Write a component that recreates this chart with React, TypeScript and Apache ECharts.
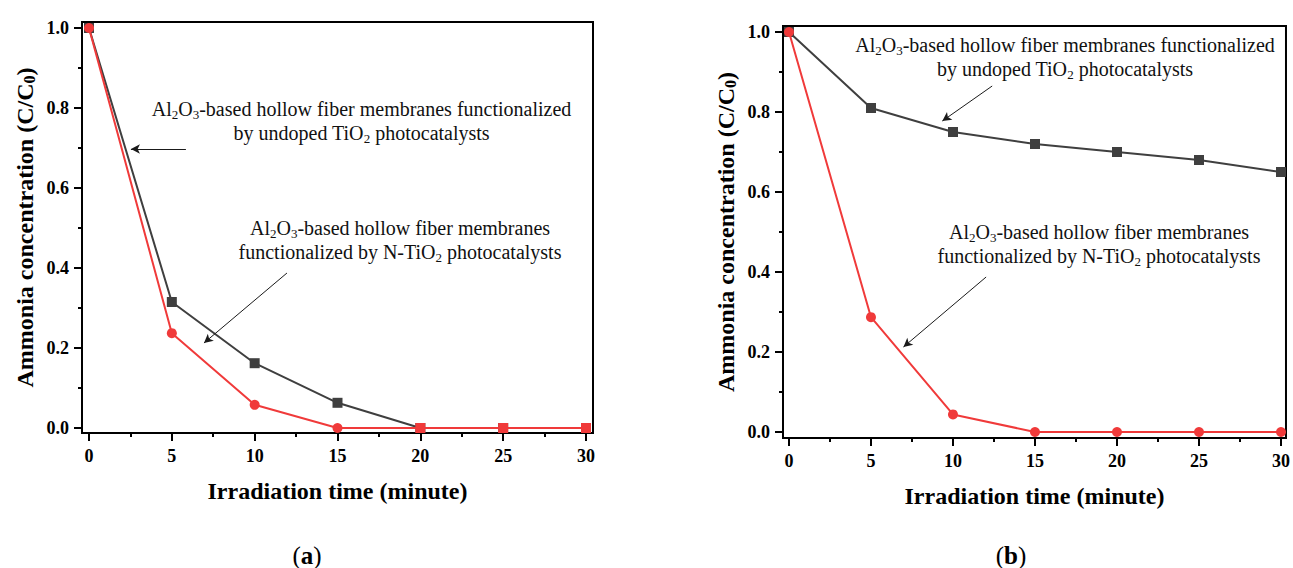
import React, { useEffect, useRef } from 'react';
import * as echarts from 'echarts';

// ---- data ----
const times = [0, 5, 10, 15, 20, 25, 30];
const undopedA = [1.0, 0.315, 0.162, 0.063, 0, 0, 0];
const nDopedA = [1.0, 0.237, 0.058, 0, 0, 0, 0];
const nDopedSymbolsA = ['circle', 'circle', 'circle', 'circle', 'rect', 'rect', 'rect'];
const undopedB = [1.0, 0.81, 0.75, 0.72, 0.70, 0.68, 0.65];
const nDopedB = [1.0, 0.287, 0.044, 0, 0, 0, 0];

const xTicks = [0, 5, 10, 15, 20, 25, 30];
const xMinorTicks = [2.5, 7.5, 12.5, 17.5, 22.5, 27.5];
const yTicks = [0, 0.2, 0.4, 0.6, 0.8, 1.0];
const yMinorTicks = [0.1, 0.3, 0.5, 0.7, 0.9];

// arrows: [x1, y1, x2, y2] in data units (tail -> head)
const arrowsA = [
  [5.85, 0.6975, 2.53, 0.6975],
  [11.95, 0.3875, 6.94, 0.2125],
];
const arrowsB = [
  [12.39, 0.865, 9.35, 0.7775],
  [12.02, 0.3875, 6.98, 0.2125],
];

const textUndoped = 'Al{s|2}O{s|3}-based hollow fiber membranes functionalized\nby undoped TiO{s|2} photocatalysts';
const textNDoped = 'Al{s|2}O{s|3}-based hollow fiber membranes\nfunctionalized by N-TiO{s|2} photocatalysts';

const SERIF = '"Liberation Serif", "Times New Roman", serif';
const GREY = '#3f3f3f';
const RED = '#f03a3a';

function axesFor(g: number, xMin: number, xMax: number, yMin: number, yMax: number) {
  const line = { color: '#000', width: 2 };
  const xs = [
    {
      type: 'value', gridIndex: g, position: 'bottom', min: xMin, max: xMax,
      axisLine: { show: true, onZero: false, lineStyle: line },
      axisTick: { show: true, inside: false, length: 8, customValues: xTicks, lineStyle: line },
      axisLabel: { show: true, customValues: xTicks, margin: 14, fontFamily: SERIF, fontWeight: 'bold', fontSize: 18, color: '#000' },
      splitLine: { show: false },
      name: 'Irradiation time (minute)', nameLocation: 'middle', nameGap: 46,
      nameTextStyle: { fontFamily: SERIF, fontWeight: 'bold', fontSize: 24, color: '#000' },
    },
    {
      type: 'value', gridIndex: g, position: 'bottom', min: xMin, max: xMax,
      axisLine: { show: false, onZero: false },
      axisTick: { show: true, inside: false, length: 4, customValues: xMinorTicks, lineStyle: line },
      axisLabel: { show: false },
      splitLine: { show: false },
    },
  ];
  const ys = [
    {
      type: 'value', gridIndex: g, position: 'left', min: yMin, max: yMax,
      axisLine: { show: true, onZero: false, lineStyle: line },
      axisTick: { show: true, inside: false, length: 8, customValues: yTicks, lineStyle: line },
      axisLabel: {
        show: true, customValues: yTicks, margin: 13, fontFamily: SERIF, fontWeight: 'bold', fontSize: 18, color: '#000',
        formatter: (v: number) => v.toFixed(1),
      },
      splitLine: { show: false },
      name: 'Ammonia concentration (C/C{s|0})', nameLocation: 'middle', nameGap: 45,
      nameTextStyle: {
        fontFamily: SERIF, fontWeight: 'bold', fontSize: 24, color: '#000',
        rich: { s: { fontFamily: SERIF, fontWeight: 'bold', fontSize: 16, color: '#000', verticalAlign: 'bottom', lineHeight: 18 } },
      },
    },
    {
      type: 'value', gridIndex: g, position: 'left', min: yMin, max: yMax,
      axisLine: { show: false, onZero: false },
      axisTick: { show: true, inside: false, length: 4, customValues: yMinorTicks, lineStyle: line },
      axisLabel: { show: false },
      splitLine: { show: false },
    },
  ];
  return { xs, ys };
}

function arrowLines(arrows: number[][]) {
  return {
    silent: true,
    symbol: ['none', 'arrow'],
    symbolSize: [7, 9],
    label: { show: false },
    emphasis: { disabled: true },
    lineStyle: { color: '#1a1a1a', width: 1, type: 'solid' },
    data: arrows.map((a) => [
      { coord: [a[0], a[1]], symbol: 'none' },
      { coord: [a[2], a[3]], symbol: 'arrow' },
    ]),
  };
}

function annot(text: string, x: number, y: number) {
  return {
    type: 'text', x, y, z: 100,
    style: {
      text,
      fill: '#111',
      fontFamily: SERIF,
      fontSize: 20,
      lineHeight: 24,
      align: 'center',
      verticalAlign: 'middle',
      rich: {
        s: { fontFamily: SERIF, fontSize: 13, fill: '#111', verticalAlign: 'bottom', lineHeight: 17 },
      },
    },
  };
}

function caption(letter: string, x: number, y: number) {
  return {
    type: 'text', x, y, z: 100,
    style: {
      text: '(' + '{b|' + letter + '}' + ')',
      fill: '#000', fontFamily: SERIF, fontSize: 25, lineHeight: 28, align: 'center', verticalAlign: 'middle',
      rich: { b: { fontFamily: SERIF, fontSize: 25, lineHeight: 28, fontWeight: 'bold', fill: '#000' } },
    },
  };
}

const a = axesFor(0, -0.4225, 30.4225, -0.0125, 1.015);
const b = axesFor(1, -0.364, 30.304, -0.015, 1.015);

const option: any = {
  animation: false,
  backgroundColor: '#fff',
  grid: [
    { left: 82, top: 22, width: 511, height: 411, show: true, borderColor: '#000', borderWidth: 2, backgroundColor: 'transparent' },
    { left: 783, top: 26, width: 505, height: 412, show: true, borderColor: '#000', borderWidth: 2, backgroundColor: 'transparent' },
  ],
  xAxis: [...a.xs, ...b.xs],
  yAxis: [...a.ys, ...b.ys],
  series: [
    {
      type: 'line', xAxisIndex: 0, yAxisIndex: 0, clip: false, z: 2,
      data: times.map((t, i) => [t, undopedA[i]]),
      symbol: 'rect', symbolSize: 10,
      lineStyle: { color: GREY, width: 2 }, itemStyle: { color: GREY },
      markLine: arrowLines(arrowsA),
    },
    {
      type: 'line', xAxisIndex: 0, yAxisIndex: 0, clip: false, z: 3,
      data: times.map((t, i) => ({ value: [t, nDopedA[i]], symbol: nDopedSymbolsA[i] })),
      symbol: 'circle', symbolSize: 10,
      lineStyle: { color: RED, width: 2 }, itemStyle: { color: RED },
    },
    {
      type: 'line', xAxisIndex: 2, yAxisIndex: 2, clip: false, z: 2,
      data: times.map((t, i) => [t, undopedB[i]]),
      symbol: 'rect', symbolSize: 10,
      lineStyle: { color: GREY, width: 2 }, itemStyle: { color: GREY },
      markLine: arrowLines(arrowsB),
    },
    {
      type: 'line', xAxisIndex: 2, yAxisIndex: 2, clip: false, z: 3,
      data: times.map((t, i) => [t, nDopedB[i]]),
      symbol: 'circle', symbolSize: 10,
      lineStyle: { color: RED, width: 2 }, itemStyle: { color: RED },
    },
  ],
  graphic: [
    annot(textUndoped, 361.5, 121),
    annot(textNDoped, 400, 240),
    annot(textUndoped, 1065, 57),
    annot(textNDoped, 1099, 244),
    caption('a', 307, 555),
    caption('b', 1011, 555),
  ],
};

export default function App() {
  const ref = useRef<HTMLDivElement>(null);
  useEffect(() => {
    if (!ref.current) return;
    const chart = echarts.init(ref.current, null, { renderer: 'svg' });
    chart.setOption(option);
    return () => chart.dispose();
  }, []);
  return (
    <div
      ref={ref}
      style={{ position: 'absolute', left: 0, top: 0, width: 1293, height: 568, background: '#fff' }}
    />
  );
}
